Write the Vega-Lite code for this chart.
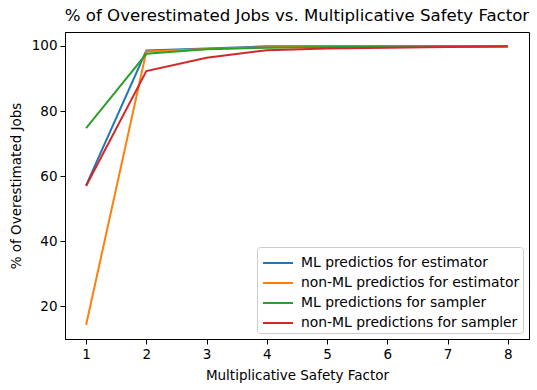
{
  "$schema": "https://vega.github.io/schema/vega-lite/v6.json",
  "autosize": {"type": "none"},
  "padding": {"left": 65, "top": 32, "right": 8, "bottom": 51},
  "width": 464,
  "height": 307,
  "title": {"text": "% of Overestimated Jobs vs. Multiplicative Safety Factor", "font": "DejaVu Sans", "fontSize": 16.6, "fontWeight": "normal", "color": "black", "offset": 7},
  "config": {
    "view": {"stroke": "black", "strokeWidth": 1},
    "font": "DejaVu Sans"
  },
  "data": {"values": [
    {"x": 1, "y": 57.2, "s": "ML predictios for estimator"},
    {"x": 2, "y": 98.6, "s": "ML predictios for estimator"},
    {"x": 3, "y": 99.2, "s": "ML predictios for estimator"},
    {"x": 4, "y": 99.9, "s": "ML predictios for estimator"},
    {"x": 5, "y": 99.9, "s": "ML predictios for estimator"},
    {"x": 6, "y": 100.0, "s": "ML predictios for estimator"},
    {"x": 7, "y": 100.0, "s": "ML predictios for estimator"},
    {"x": 8, "y": 100.0, "s": "ML predictios for estimator"},
    {"x": 1, "y": 14.3, "s": "non-ML predictios for estimator"},
    {"x": 2, "y": 98.3, "s": "non-ML predictios for estimator"},
    {"x": 3, "y": 99.1, "s": "non-ML predictios for estimator"},
    {"x": 4, "y": 99.6, "s": "non-ML predictios for estimator"},
    {"x": 5, "y": 99.8, "s": "non-ML predictios for estimator"},
    {"x": 6, "y": 99.9, "s": "non-ML predictios for estimator"},
    {"x": 7, "y": 100.0, "s": "non-ML predictios for estimator"},
    {"x": 8, "y": 100.0, "s": "non-ML predictios for estimator"},
    {"x": 1, "y": 74.8, "s": "ML predictions for sampler"},
    {"x": 2, "y": 97.6, "s": "ML predictions for sampler"},
    {"x": 3, "y": 99.0, "s": "ML predictions for sampler"},
    {"x": 4, "y": 99.5, "s": "ML predictions for sampler"},
    {"x": 5, "y": 99.7, "s": "ML predictions for sampler"},
    {"x": 6, "y": 99.8, "s": "ML predictions for sampler"},
    {"x": 7, "y": 99.9, "s": "ML predictions for sampler"},
    {"x": 8, "y": 100.0, "s": "ML predictions for sampler"},
    {"x": 1, "y": 57.0, "s": "non-ML predictions for sampler"},
    {"x": 2, "y": 92.3, "s": "non-ML predictions for sampler"},
    {"x": 3, "y": 96.4, "s": "non-ML predictions for sampler"},
    {"x": 4, "y": 98.7, "s": "non-ML predictions for sampler"},
    {"x": 5, "y": 99.2, "s": "non-ML predictions for sampler"},
    {"x": 6, "y": 99.5, "s": "non-ML predictions for sampler"},
    {"x": 7, "y": 99.7, "s": "non-ML predictions for sampler"},
    {"x": 8, "y": 99.8, "s": "non-ML predictions for sampler"}
  ]},
  "mark": {"type": "line", "strokeWidth": 2, "clip": true},
  "encoding": {
    "x": {"field": "x", "type": "quantitative",
      "scale": {"domain": [0.65, 8.35], "nice": false, "zero": false},
      "axis": {"title": "Multiplicative Safety Factor", "values": [1,2,3,4,5,6,7,8], "grid": false, "domainColor": "black", "tickColor": "black", "tickSize": 5, "labelFontSize": 13.5, "labelColor": "black", "titleFontSize": 13.5, "titleFontWeight": "normal", "titleColor": "black", "labelPadding": 3, "titlePadding": 8}},
    "y": {"field": "y", "type": "quantitative",
      "scale": {"domain": [10, 104.3], "nice": false, "zero": false},
      "axis": {"title": "% of Overestimated Jobs", "values": [20,40,60,80,100], "grid": false, "domainColor": "black", "tickColor": "black", "tickSize": 5, "labelFontSize": 13.5, "labelColor": "black", "titleFontSize": 13.5, "titleFontWeight": "normal", "titleColor": "black", "labelPadding": 3, "titlePadding": 8}},
    "color": {"field": "s", "type": "nominal",
      "scale": {"domain": ["ML predictios for estimator", "non-ML predictios for estimator", "ML predictions for sampler", "non-ML predictions for sampler"], "range": ["#1f77b4", "#ff7f0e", "#2ca02c", "#d62728"]},
      "legend": {"title": null, "orient": "bottom-right", "offset": 6, "symbolType": "M-1.25,0H1.25", "symbolSize": 576, "symbolStrokeWidth": 2, "symbolOffset": 5, "labelFontSize": 13.9, "labelColor": "black", "fillColor": "white", "strokeColor": "#cccccc", "cornerRadius": 3, "padding": 3, "rowPadding": 0, "labelOffset": 10, "labelLimit": 400}}
  }
}
